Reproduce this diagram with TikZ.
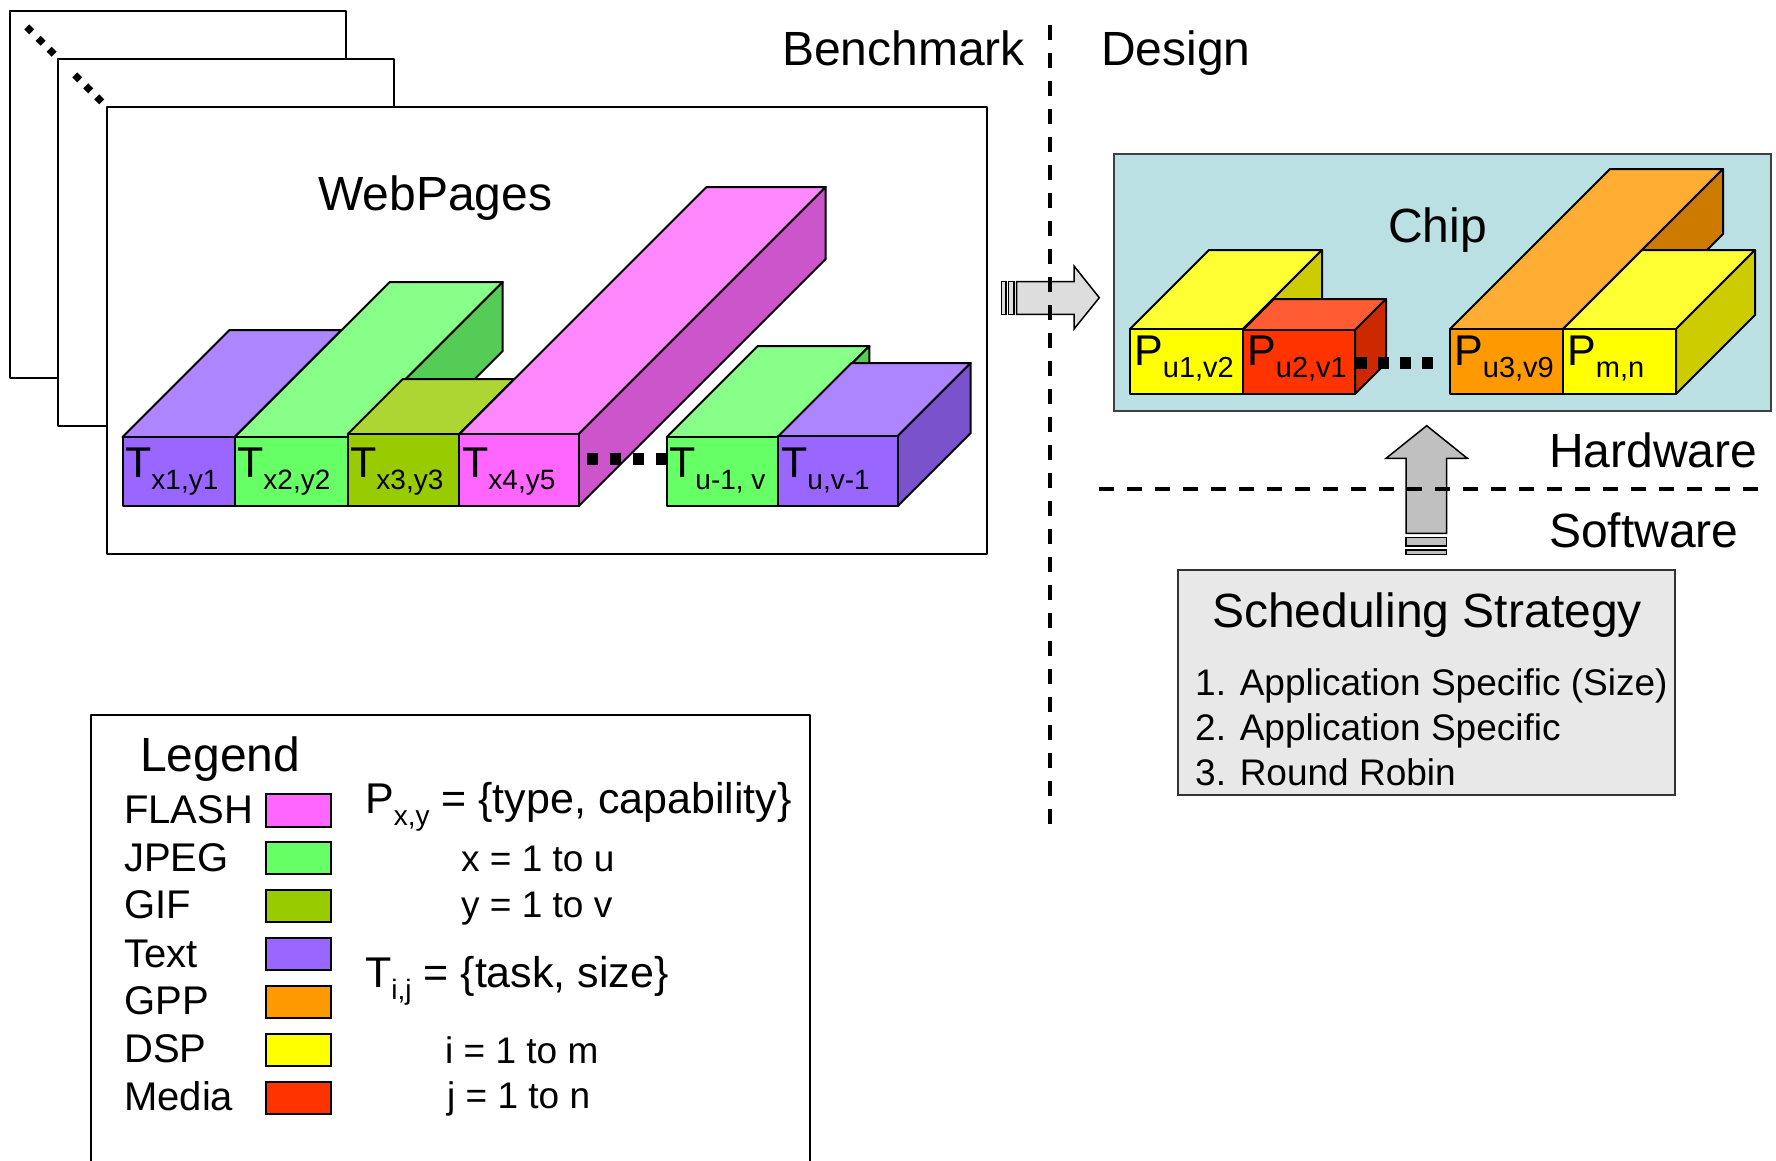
\documentclass[tikz,border=0pt]{standalone}
\usepackage{fontspec}
\setmainfont{Liberation Sans}
\definecolor{pFront}{HTML}{9966FF}\definecolor{pTop}{HTML}{AD85FF}\definecolor{pSide}{HTML}{7A52CC}
\definecolor{gFront}{HTML}{66FF66}\definecolor{gTop}{HTML}{88FF88}\definecolor{gSide}{HTML}{55CC55}
\definecolor{oFront}{HTML}{99CC00}\definecolor{oTop}{HTML}{ADD633}\definecolor{oSide}{HTML}{7AA300}
\definecolor{mFront}{HTML}{FF66FF}\definecolor{mTop}{HTML}{FF88FF}\definecolor{mSide}{HTML}{CC55CC}
\definecolor{yFront}{HTML}{FFFF00}\definecolor{yTop}{HTML}{FFFF33}\definecolor{ySide}{HTML}{CCCC00}
\definecolor{rFront}{HTML}{FF3300}\definecolor{rTop}{HTML}{FF5C33}\definecolor{rSide}{HTML}{CC2900}
\definecolor{aFront}{HTML}{FF9900}\definecolor{aTop}{HTML}{FFAD33}\definecolor{aSide}{HTML}{CC7A00}
\definecolor{chipbg}{HTML}{BBE0E3}
\definecolor{schedbg}{HTML}{E8E8E8}
\definecolor{arrowA}{HTML}{DDDDDD}
\definecolor{arrowB}{HTML}{C0C0C0}
\newcommand\mycuboid[8]{%
  \filldraw[boxline,fill=#7] (#1,#2) -- (#3,#2) -- ({#3+#5},{#2-#5}) -- ({#1+#5},{#2-#5}) -- cycle;
  \filldraw[boxline,fill=#8] (#3,#2) -- ({#3+#5},{#2-#5}) -- ({#3+#5},{#4-#5}) -- (#3,#4) -- cycle;
  \filldraw[boxline,fill=#6] (#1,#2) rectangle (#3,#4);}
\newcommand\sbx[2]{{\fontsize{#1}{#1}\selectfont\raisebox{-12pt}{#2}}}
\newcommand\mydiamond[2]{\fill (#1-5,#2) -- (#1,#2-5) -- (#1+5,#2) -- (#1,#2+5) -- cycle;}
\begin{document}
\begin{tikzpicture}[x=1pt,y=-1pt,
  boxline/.style={draw=black,line width=2pt,line join=round},
  txt/.style={inner sep=0pt,anchor=base west},
  big/.style={font=\fontsize{48}{56}\selectfont},
  mid/.style={font=\fontsize{40}{46}\selectfont},
  sml/.style={font=\fontsize{37}{44}\selectfont},
  lab/.style={font=\fontsize{43}{43}\selectfont},
  dashline/.style={line width=3.5pt,dash pattern=on 15pt off 13pt},
  dotline/.style={line width=12pt,dash pattern=on 11pt off 12pt},
  swatch/.style={draw=black,line width=2pt}]
\useasboundingbox (0,0) rectangle (1776,1160);
\fill[white] (0,0) rectangle (1776,1160);

% stacked pages
\filldraw[boxline,fill=white] (10,10.5) rectangle (346,378);
\filldraw[boxline,fill=white] (58.3,59) rectangle (394,426);
\filldraw[boxline,fill=white] (106.5,106.5) rectangle (987,554);
\mydiamond{29.3}{29.3}\mydiamond{40.7}{40.7}\mydiamond{51.7}{51.7}
\mydiamond{77.3}{77.3}\mydiamond{88.3}{88.3}\mydiamond{99.3}{99.3}

\node[txt,big] (webpages) at (318,210) {WebPages};

% task boxes
\mycuboid{122.5}{437}{234.8}{506}{107}{pFront}{pTop}{pSide}
\mycuboid{234.8}{437}{347.7}{506}{155}{gFront}{gTop}{gSide}
\mycuboid{347.7}{434}{459.4}{506}{55}{oFront}{oTop}{oSide}
\mycuboid{459.4}{434}{578.7}{506}{247}{mFront}{mTop}{mSide}
\draw[dotline] (587,459) -- (667,459);
\mycuboid{666.7}{437}{778.4}{506}{91}{gFront}{gTop}{gSide}
\mycuboid{778.4}{436}{897.7}{506}{73}{pFront}{pTop}{pSide}

\node[txt,lab] (t1) at (125,477) {T\sbx{28}{x1,y1}};
\node[txt,lab] (t2) at (237,477) {T\sbx{28}{x2,y2}};
\node[txt,lab] (t3) at (350,477) {T\sbx{28}{x3,y3}};
\node[txt,lab] (t4) at (462,477) {T\sbx{28}{x4,y5}};
\node[txt,lab] (t5) at (669,477) {T\sbx{28}{u-1, v}};
\node[txt,lab] (t6) at (781,477) {T\sbx{28}{u,v-1}};

% right block arrow
\filldraw[fill=arrowA,draw=black,line width=1.5pt] (1001.7,281.7) rectangle (1006,314.3);
\filldraw[fill=arrowA,draw=black,line width=1.5pt] (1008.3,281.7) rectangle (1014,314.3);
\filldraw[fill=arrowA,draw=black,line width=1.5pt,line join=miter]
  (1016.7,281.7) -- (1074,281.7) -- (1074,266) -- (1099.3,297.7) -- (1074,329) -- (1074,314.3) -- (1016.7,314.3) -- cycle;

% chip
\filldraw[fill=chipbg,draw=black!75,line width=2pt] (1114,154) rectangle (1771,411);
\node[txt,big] (chip) at (1388,242) {Chip};
\mycuboid{1130}{329}{1243}{394}{79}{yFront}{yTop}{ySide}
\mycuboid{1243}{330}{1355}{394}{31}{rFront}{rTop}{rSide}
\draw[dotline,dash pattern=on 11pt off 11pt] (1356,362.5) -- (1440,362.5);
\mycuboid{1450}{329}{1563}{394}{160}{aFront}{aTop}{aSide}
\mycuboid{1563}{329}{1676}{394}{79}{yFront}{yTop}{ySide}
\node[txt,lab] (p1) at (1134,365) {P\sbx{29}{u1,v2}};
\node[txt,lab] (p2) at (1247,365) {P\sbx{29}{u2,v1}};
\node[txt,lab] (p3) at (1454,365) {P\sbx{29}{u3,v9}};
\node[txt,lab] (p4) at (1567,365) {P\sbx{29}{m,n}};

% up block arrow
\filldraw[fill=arrowB,draw=black,line width=1.5pt,line join=miter]
  (1426.7,425.7) -- (1467.3,458.3) -- (1446.7,458.3) -- (1446.7,533.3) -- (1406,533.3) -- (1406,458.3) -- (1386,458.3) -- cycle;
\filldraw[fill=arrowB,draw=black,line width=1.5pt] (1406,537.7) rectangle (1446.7,546);
\filldraw[fill=arrowB,draw=black,line width=1.5pt] (1406,550) rectangle (1446.7,554.3);

% dashed separators
\draw[dashline] (1050,25) -- (1050,827);
\draw[dashline] (1099,489) -- (1760,489);

\node[txt,big] (bench) at (782,65.5) {Benchmark};
\node[txt,big] (design) at (1101,65.5) {Design};
\node[txt,big] (hw) at (1549,467) {Hardware};
\node[txt,big] (sw) at (1549,547) {Software};

% scheduling strategy
\filldraw[fill=schedbg,draw=black!80,line width=2pt] (1178,570) rectangle (1675,795);
\node[txt,big] (sched) at (1212,627) {Scheduling Strategy};
\node[txt,sml] (s1) at (1195,695) {1. Application Specific (Size)};
\node[txt,sml] (s2) at (1195,740) {2. Application Specific};
\node[txt,sml] (s3) at (1195,785) {3. Round Robin};

% legend
\draw[boxline] (91,1170) -- (91,715) -- (810,715) -- (810,1170);
\node[txt,big] (legend) at (140,771) {Legend};
\node[txt,mid] (lflash) at (124,823) {FLASH};
\node[txt,mid] (ljpeg) at (124,871) {JPEG};
\node[txt,mid] (lgif) at (124,918) {GIF};
\node[txt,mid] (ltext) at (124,967) {Text};
\node[txt,mid] (lgpp) at (124,1014) {GPP};
\node[txt,mid] (ldsp) at (124,1062) {DSP};
\node[txt,mid] (lmedia) at (124,1110) {Media};
\filldraw[swatch,fill=mFront] (266,794) rectangle (331,827);
\filldraw[swatch,fill=gFront] (266,842) rectangle (331,874);
\filldraw[swatch,fill=oFront] (266,890) rectangle (331,922);
\filldraw[swatch,fill=pFront] (266,938) rectangle (331,970);
\filldraw[swatch,fill=aFront] (266,986) rectangle (331,1018);
\filldraw[swatch,fill=yFront] (266,1034) rectangle (331,1066);
\filldraw[swatch,fill=rFront] (266,1082) rectangle (331,1114);

\node[txt,lab] (pdef) at (365,813) {P\sbx{28}{x,y} = \{type, capability\}};
\node[txt,sml] (xdef) at (461,871) {x = 1 to u};
\node[txt,sml] (ydef) at (461,917) {y = 1 to v};
\node[txt,lab] (tdef) at (365,987) {T\sbx{28}{i,j} = \{task, size\}};
\node[txt,sml] (idef) at (445,1063) {i = 1 to m};
\node[txt,sml] (jdef) at (447,1108) {j = 1 to n};
\end{tikzpicture}
\end{document}
